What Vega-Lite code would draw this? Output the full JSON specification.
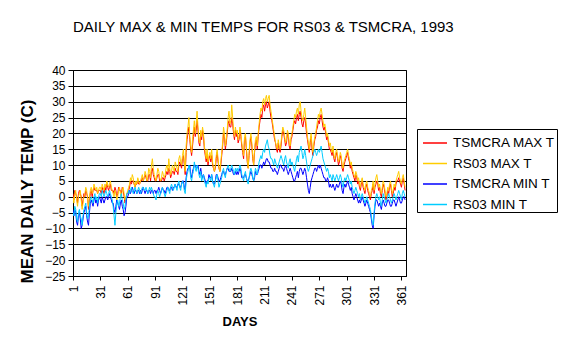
{
"$schema":"https://vega.github.io/schema/vega-lite/v6.json",
"width":333,"height":206,
"autosize":{"type":"none"},
"padding":{"left":73,"top":70,"right":161,"bottom":77},
"background":"white",
"title":{"text":"DAILY MAX & MIN TEMPS FOR RS03 & TSMCRA, 1993","anchor":"start","frame":"group","baseline":"alphabetic","offset":17,"fontSize":15,"fontWeight":"normal","font":"Liberation Sans","color":"#000"},
"data":{"values":[
{"d":1,"a":1,"b":0,"c":-4,"e":-5},{"d":2,"a":-1,"b":-2,"c":-6,"e":-6},{"d":3,"a":2,"b":1,"c":-4,"e":-3},{"d":4,"a":1,"b":2,"c":-5,"e":-4},{"d":5,"a":0,"b":-1,"c":-8,"e":-7},
{"d":6,"a":-2,"b":-3,"c":-9,"e":-8},{"d":7,"a":1,"b":0,"c":-6,"e":-5},{"d":8,"a":2,"b":1,"c":-5,"e":-4},{"d":9,"a":1,"b":2,"c":-7,"e":-6},{"d":10,"a":0,"b":-1,"c":-10,"e":-7},
{"d":11,"a":-3,"b":-4,"c":-9,"e":-9},{"d":12,"a":-1,"b":-2,"c":-7,"e":-6},{"d":13,"a":1,"b":0,"c":-5,"e":-4},{"d":14,"a":0,"b":1,"c":-4,"e":-3},{"d":15,"a":2,"b":3,"c":-3,"e":-2},
{"d":16,"a":1,"b":2,"c":-6,"e":-5},{"d":17,"a":0,"b":-1,"c":-8,"e":-7},{"d":18,"a":-4,"b":-3,"c":-9,"e":-6},{"d":19,"a":-1,"b":0,"c":-5,"e":-3},{"d":20,"a":1,"b":2,"c":-2,"e":-1},
{"d":21,"a":2,"b":3,"c":-1,"e":0},{"d":22,"a":0,"b":1,"c":-2,"e":-1},{"d":23,"a":2,"b":2,"c":-3,"e":-2},{"d":24,"a":3,"b":4,"c":-1,"e":0},{"d":25,"a":2,"b":3,"c":0,"e":1},
{"d":26,"a":2,"b":2,"c":-2,"e":-1},{"d":27,"a":2,"b":3,"c":-1,"e":0},{"d":28,"a":1,"b":1,"c":-3,"e":-2},{"d":29,"a":2,"b":2,"c":-1,"e":0},{"d":30,"a":2,"b":3,"c":0,"e":1},
{"d":31,"a":2,"b":3,"c":-1,"e":1},{"d":32,"a":1,"b":2,"c":-2,"e":0},{"d":33,"a":3,"b":4,"c":0,"e":2},{"d":34,"a":2,"b":3,"c":-1,"e":1},{"d":35,"a":1,"b":2,"c":-2,"e":0},
{"d":36,"a":3,"b":4,"c":-1,"e":1},{"d":37,"a":2,"b":3,"c":0,"e":2},{"d":38,"a":4,"b":5,"c":0,"e":1},{"d":39,"a":3,"b":4,"c":-1,"e":0},{"d":40,"a":2,"b":3,"c":0,"e":1},
{"d":41,"a":3,"b":4,"c":1,"e":2},{"d":42,"a":4,"b":5,"c":0,"e":1},{"d":43,"a":2,"b":3,"c":-1,"e":0},{"d":44,"a":2,"b":2,"c":-2,"e":-1},{"d":45,"a":2,"b":1,"c":-2,"e":-3},
{"d":46,"a":1,"b":0,"c":-4,"e":-6},{"d":47,"a":3,"b":2,"c":-5,"e":-9},{"d":48,"a":2,"b":1,"c":-3,"e":-5},{"d":49,"a":0,"b":-1,"c":-1,"e":-2},{"d":50,"a":1,"b":0,"c":-2,"e":-1},
{"d":51,"a":3,"b":2,"c":-3,"e":-3},{"d":52,"a":2,"b":3,"c":-4,"e":-2},{"d":53,"a":2,"b":1,"c":-2,"e":0},{"d":54,"a":1,"b":0,"c":-1,"e":1},{"d":55,"a":3,"b":2,"c":-3,"e":-1},
{"d":56,"a":2,"b":3,"c":-4,"e":-2},{"d":57,"a":0,"b":1,"c":-6,"e":-4},{"d":58,"a":-2,"b":-1,"c":-5,"e":-3},{"d":59,"a":-1,"b":0,"c":-3,"e":-1},{"d":60,"a":1,"b":1,"c":0,"e":1},
{"d":61,"a":1,"b":2,"c":0,"e":1},{"d":62,"a":2,"b":3,"c":1,"e":2},{"d":63,"a":3,"b":4,"c":2,"e":1},{"d":64,"a":5,"b":6,"c":1,"e":2},{"d":65,"a":4,"b":5,"c":2,"e":3},
{"d":66,"a":5,"b":7,"c":3,"e":2},{"d":67,"a":5,"b":6,"c":2,"e":1},{"d":68,"a":4,"b":4,"c":1,"e":2},{"d":69,"a":3,"b":3,"c":2,"e":3},{"d":70,"a":4,"b":5,"c":2,"e":2},
{"d":71,"a":4,"b":4,"c":1,"e":1},{"d":72,"a":5,"b":6,"c":2,"e":2},{"d":73,"a":4,"b":5,"c":2,"e":3},{"d":74,"a":4,"b":4,"c":1,"e":2},{"d":75,"a":5,"b":5,"c":2,"e":1},
{"d":76,"a":5,"b":6,"c":1,"e":2},{"d":77,"a":6,"b":7,"c":2,"e":3},{"d":78,"a":5,"b":5,"c":3,"e":3},{"d":79,"a":6,"b":6,"c":2,"e":2},{"d":80,"a":7,"b":8,"c":1,"e":2},
{"d":81,"a":6,"b":7,"c":2,"e":3},{"d":82,"a":5,"b":5,"c":2,"e":2},{"d":83,"a":5,"b":6,"c":1,"e":1},{"d":84,"a":7,"b":9,"c":2,"e":2},{"d":85,"a":7,"b":8,"c":2,"e":3},
{"d":86,"a":5,"b":6,"c":1,"e":2},{"d":87,"a":8,"b":10,"c":2,"e":3},{"d":88,"a":9,"b":12,"c":2,"e":2},{"d":89,"a":7,"b":9,"c":1,"e":1},{"d":90,"a":6,"b":7,"c":2,"e":0},
{"d":91,"a":5,"b":6,"c":2,"e":0},{"d":92,"a":5,"b":5,"c":1,"e":-1},{"d":93,"a":6,"b":7,"c":2,"e":1},{"d":94,"a":7,"b":9,"c":2,"e":2},{"d":95,"a":7,"b":8,"c":3,"e":1},
{"d":96,"a":5,"b":6,"c":2,"e":0},{"d":97,"a":5,"b":5,"c":1,"e":1},{"d":98,"a":5,"b":6,"c":2,"e":2},{"d":99,"a":6,"b":8,"c":3,"e":3},{"d":100,"a":6,"b":7,"c":2,"e":2},
{"d":101,"a":5,"b":6,"c":2,"e":1},{"d":102,"a":6,"b":7,"c":1,"e":0},{"d":103,"a":7,"b":9,"c":2,"e":1},{"d":104,"a":8,"b":10,"c":3,"e":2},{"d":105,"a":7,"b":8,"c":3,"e":3},
{"d":106,"a":9,"b":12,"c":2,"e":2},{"d":107,"a":8,"b":9,"c":2,"e":1},{"d":108,"a":6,"b":7,"c":3,"e":3},{"d":109,"a":7,"b":8,"c":3,"e":4},{"d":110,"a":8,"b":10,"c":2,"e":3},
{"d":111,"a":8,"b":9,"c":3,"e":2},{"d":112,"a":7,"b":8,"c":3,"e":3},{"d":113,"a":9,"b":11,"c":4,"e":4},{"d":114,"a":8,"b":10,"c":3,"e":3},{"d":115,"a":8,"b":9,"c":3,"e":2},
{"d":116,"a":7,"b":8,"c":4,"e":4},{"d":117,"a":10,"b":12,"c":4,"e":5},{"d":118,"a":11,"b":13,"c":3,"e":3},{"d":119,"a":10,"b":11,"c":3,"e":2},{"d":120,"a":9,"b":10,"c":4,"e":4},
{"d":121,"a":12,"b":13,"c":5,"e":5},{"d":122,"a":13,"b":15,"c":5,"e":4},{"d":123,"a":10,"b":11,"c":3,"e":2},{"d":124,"a":7,"b":8,"c":2,"e":1},{"d":125,"a":14,"b":16,"c":6,"e":5},
{"d":126,"a":18,"b":20,"c":8,"e":7},{"d":127,"a":20,"b":22,"c":9,"e":8},{"d":128,"a":22,"b":25,"c":9,"e":10},{"d":129,"a":18,"b":19,"c":10,"e":9},{"d":130,"a":15,"b":16,"c":7,"e":6},
{"d":131,"a":13,"b":14,"c":6,"e":5},{"d":132,"a":16,"b":18,"c":8,"e":7},{"d":133,"a":19,"b":21,"c":9,"e":8},{"d":134,"a":22,"b":24,"c":10,"e":11},{"d":135,"a":19,"b":20,"c":10,"e":9},
{"d":136,"a":21,"b":23,"c":9,"e":8},{"d":137,"a":24,"b":27,"c":9,"e":10},{"d":138,"a":21,"b":22,"c":10,"e":9},{"d":139,"a":17,"b":18,"c":8,"e":7},{"d":140,"a":16,"b":17,"c":7,"e":6},
{"d":141,"a":20,"b":21,"c":9,"e":8},{"d":142,"a":18,"b":19,"c":7,"e":5},{"d":143,"a":21,"b":22,"c":6,"e":6},{"d":144,"a":19,"b":20,"c":7,"e":7},{"d":145,"a":15,"b":16,"c":6,"e":5},
{"d":146,"a":13,"b":14,"c":5,"e":4},{"d":147,"a":11,"b":12,"c":4,"e":3},{"d":148,"a":13,"b":15,"c":5,"e":5},{"d":149,"a":10,"b":11,"c":5,"e":4},{"d":150,"a":12,"b":13,"c":7,"e":6},
{"d":151,"a":13,"b":14,"c":6,"e":6},{"d":152,"a":11,"b":12,"c":6,"e":5},{"d":153,"a":13,"b":15,"c":7,"e":7},{"d":154,"a":10,"b":11,"c":5,"e":5},{"d":155,"a":9,"b":9,"c":4,"e":4},
{"d":156,"a":8,"b":8,"c":4,"e":3},{"d":157,"a":9,"b":10,"c":5,"e":5},{"d":158,"a":12,"b":13,"c":7,"e":6},{"d":159,"a":14,"b":15,"c":7,"e":7},{"d":160,"a":11,"b":12,"c":6,"e":5},
{"d":161,"a":9,"b":9,"c":5,"e":3},{"d":162,"a":8,"b":8,"c":5,"e":4},{"d":163,"a":10,"b":11,"c":6,"e":5},{"d":164,"a":13,"b":14,"c":7,"e":6},{"d":165,"a":16,"b":17,"c":8,"e":8},
{"d":166,"a":20,"b":22,"c":8,"e":9},{"d":167,"a":19,"b":20,"c":7,"e":7},{"d":168,"a":15,"b":16,"c":7,"e":6},{"d":169,"a":17,"b":18,"c":8,"e":8},{"d":170,"a":20,"b":21,"c":9,"e":9},
{"d":171,"a":23,"b":25,"c":9,"e":10},{"d":172,"a":24,"b":27,"c":8,"e":9},{"d":173,"a":22,"b":23,"c":8,"e":8},{"d":174,"a":22,"b":24,"c":8,"e":9},{"d":175,"a":25,"b":29,"c":9,"e":10},
{"d":176,"a":23,"b":25,"c":8,"e":9},{"d":177,"a":20,"b":21,"c":7,"e":8},{"d":178,"a":18,"b":19,"c":7,"e":7},{"d":179,"a":21,"b":22,"c":8,"e":9},{"d":180,"a":19,"b":20,"c":7,"e":8},
{"d":181,"a":20,"b":21,"c":8,"e":9},{"d":182,"a":17,"b":18,"c":7,"e":8},{"d":183,"a":18,"b":19,"c":8,"e":9},{"d":184,"a":21,"b":22,"c":9,"e":10},{"d":185,"a":19,"b":20,"c":8,"e":9},
{"d":186,"a":16,"b":17,"c":6,"e":7},{"d":187,"a":14,"b":15,"c":6,"e":6},{"d":188,"a":12,"b":13,"c":6,"e":5},{"d":189,"a":18,"b":19,"c":7,"e":7},{"d":190,"a":19,"b":20,"c":7,"e":8},
{"d":191,"a":15,"b":16,"c":6,"e":6},{"d":192,"a":11,"b":12,"c":5,"e":5},{"d":193,"a":9,"b":9,"c":5,"e":4},{"d":194,"a":13,"b":14,"c":6,"e":6},{"d":195,"a":17,"b":18,"c":7,"e":8},
{"d":196,"a":19,"b":20,"c":8,"e":9},{"d":197,"a":16,"b":17,"c":7,"e":8},{"d":198,"a":12,"b":13,"c":6,"e":6},{"d":199,"a":10,"b":10,"c":5,"e":5},{"d":200,"a":14,"b":15,"c":6,"e":7},
{"d":201,"a":17,"b":18,"c":8,"e":9},{"d":202,"a":18,"b":19,"c":7,"e":8},{"d":203,"a":15,"b":16,"c":7,"e":7},{"d":204,"a":19,"b":20,"c":8,"e":9},{"d":205,"a":22,"b":23,"c":9,"e":11},
{"d":206,"a":24,"b":26,"c":10,"e":12},{"d":207,"a":26,"b":28,"c":10,"e":13},{"d":208,"a":25,"b":27,"c":9,"e":12},{"d":209,"a":28,"b":30,"c":10,"e":14},{"d":210,"a":29,"b":31,"c":11,"e":15},
{"d":211,"a":27,"b":29,"c":10,"e":14},{"d":212,"a":29,"b":31,"c":11,"e":16},{"d":213,"a":30,"b":32,"c":12,"e":17},{"d":214,"a":28,"b":30,"c":12,"e":18},{"d":215,"a":29,"b":31,"c":11,"e":16},
{"d":216,"a":30,"b":32,"c":11,"e":15},{"d":217,"a":27,"b":29,"c":10,"e":13},{"d":218,"a":25,"b":27,"c":9,"e":12},{"d":219,"a":24,"b":25,"c":9,"e":12},{"d":220,"a":22,"b":23,"c":8,"e":11},
{"d":221,"a":20,"b":21,"c":8,"e":10},{"d":222,"a":18,"b":19,"c":9,"e":12},{"d":223,"a":17,"b":17,"c":8,"e":11},{"d":224,"a":15,"b":16,"c":8,"e":10},{"d":225,"a":14,"b":15,"c":7,"e":9},
{"d":226,"a":17,"b":18,"c":8,"e":10},{"d":227,"a":15,"b":16,"c":9,"e":11},{"d":228,"a":14,"b":15,"c":10,"e":12},{"d":229,"a":16,"b":17,"c":10,"e":13},{"d":230,"a":19,"b":20,"c":9,"e":12},
{"d":231,"a":21,"b":22,"c":9,"e":11},{"d":232,"a":20,"b":21,"c":8,"e":10},{"d":233,"a":18,"b":19,"c":9,"e":12},{"d":234,"a":16,"b":17,"c":10,"e":13},{"d":235,"a":17,"b":18,"c":9,"e":11},
{"d":236,"a":20,"b":21,"c":8,"e":10},{"d":237,"a":19,"b":20,"c":7,"e":9},{"d":238,"a":16,"b":17,"c":8,"e":11},{"d":239,"a":15,"b":16,"c":9,"e":12},{"d":240,"a":18,"b":19,"c":8,"e":10},
{"d":241,"a":19,"b":20,"c":7,"e":11},{"d":242,"a":21,"b":22,"c":6,"e":10},{"d":243,"a":23,"b":24,"c":5,"e":9},{"d":244,"a":24,"b":26,"c":5,"e":8},{"d":245,"a":23,"b":25,"c":6,"e":10},
{"d":246,"a":25,"b":27,"c":7,"e":12},{"d":247,"a":26,"b":28,"c":8,"e":13},{"d":248,"a":24,"b":26,"c":6,"e":11},{"d":249,"a":26,"b":29,"c":8,"e":14},{"d":250,"a":27,"b":30,"c":9,"e":15},
{"d":251,"a":25,"b":27,"c":9,"e":16},{"d":252,"a":23,"b":25,"c":8,"e":14},{"d":253,"a":22,"b":24,"c":7,"e":12},{"d":254,"a":24,"b":26,"c":8,"e":13},{"d":255,"a":25,"b":28,"c":9,"e":15},
{"d":256,"a":23,"b":25,"c":8,"e":13},{"d":257,"a":20,"b":22,"c":6,"e":11},{"d":258,"a":18,"b":19,"c":4,"e":9},{"d":259,"a":16,"b":17,"c":2,"e":8},{"d":260,"a":14,"b":15,"c":1,"e":9},
{"d":261,"a":17,"b":18,"c":3,"e":10},{"d":262,"a":19,"b":20,"c":5,"e":11},{"d":263,"a":15,"b":16,"c":6,"e":12},{"d":264,"a":13,"b":14,"c":7,"e":13},{"d":265,"a":16,"b":17,"c":8,"e":14},
{"d":266,"a":18,"b":19,"c":9,"e":15},{"d":267,"a":19,"b":20,"c":9,"e":14},{"d":268,"a":21,"b":22,"c":8,"e":13},{"d":269,"a":22,"b":24,"c":9,"e":14},{"d":270,"a":24,"b":26,"c":10,"e":15},
{"d":271,"a":23,"b":25,"c":9,"e":14},{"d":272,"a":25,"b":27,"c":10,"e":15},{"d":273,"a":26,"b":28,"c":9,"e":16},{"d":274,"a":24,"b":26,"c":8,"e":14},{"d":275,"a":22,"b":24,"c":7,"e":12},
{"d":276,"a":21,"b":22,"c":6,"e":11},{"d":277,"a":22,"b":23,"c":6,"e":10},{"d":278,"a":20,"b":21,"c":5,"e":9},{"d":279,"a":18,"b":19,"c":5,"e":8},{"d":280,"a":19,"b":20,"c":6,"e":9},
{"d":281,"a":17,"b":18,"c":5,"e":8},{"d":282,"a":15,"b":16,"c":3,"e":6},{"d":283,"a":15,"b":17,"c":4,"e":7},{"d":284,"a":14,"b":15,"c":3,"e":6},{"d":285,"a":13,"b":14,"c":3,"e":5},
{"d":286,"a":15,"b":16,"c":4,"e":7},{"d":287,"a":12,"b":13,"c":3,"e":6},{"d":288,"a":11,"b":12,"c":2,"e":5},{"d":289,"a":13,"b":14,"c":3,"e":6},{"d":290,"a":14,"b":15,"c":4,"e":7},
{"d":291,"a":12,"b":13,"c":3,"e":6},{"d":292,"a":10,"b":11,"c":3,"e":5},{"d":293,"a":11,"b":12,"c":4,"e":6},{"d":294,"a":13,"b":14,"c":5,"e":7},{"d":295,"a":12,"b":13,"c":4,"e":6},
{"d":296,"a":9,"b":10,"c":2,"e":4},{"d":297,"a":8,"b":9,"c":1,"e":3},{"d":298,"a":10,"b":11,"c":3,"e":5},{"d":299,"a":11,"b":12,"c":4,"e":6},{"d":300,"a":12,"b":13,"c":3,"e":5},
{"d":301,"a":13,"b":14,"c":4,"e":6},{"d":302,"a":14,"b":15,"c":5,"e":7},{"d":303,"a":12,"b":13,"c":4,"e":6},{"d":304,"a":11,"b":12,"c":3,"e":5},{"d":305,"a":9,"b":10,"c":2,"e":4},
{"d":306,"a":10,"b":11,"c":3,"e":5},{"d":307,"a":8,"b":9,"c":1,"e":3},{"d":308,"a":7,"b":8,"c":0,"e":2},{"d":309,"a":6,"b":7,"c":-1,"e":1},{"d":310,"a":5,"b":6,"c":0,"e":2},
{"d":311,"a":7,"b":8,"c":1,"e":3},{"d":312,"a":6,"b":7,"c":0,"e":2},{"d":313,"a":4,"b":5,"c":-1,"e":1},{"d":314,"a":5,"b":6,"c":-2,"e":0},{"d":315,"a":3,"b":4,"c":-1,"e":1},
{"d":316,"a":2,"b":3,"c":-2,"e":-1},{"d":317,"a":4,"b":5,"c":-1,"e":0},{"d":318,"a":5,"b":6,"c":0,"e":1},{"d":319,"a":3,"b":4,"c":-1,"e":0},{"d":320,"a":2,"b":3,"c":-2,"e":-1},
{"d":321,"a":1,"b":2,"c":-3,"e":-2},{"d":322,"a":3,"b":4,"c":-2,"e":-1},{"d":323,"a":4,"b":5,"c":-1,"e":0},{"d":324,"a":2,"b":3,"c":-2,"e":-1},{"d":325,"a":1,"b":2,"c":-3,"e":-2},
{"d":326,"a":0,"b":1,"c":-4,"e":-3},{"d":327,"a":-1,"b":0,"c":-5,"e":-4},{"d":328,"a":1,"b":2,"c":-7,"e":-6},{"d":329,"a":2,"b":3,"c":-9,"e":-8},{"d":330,"a":4,"b":5,"c":-10,"e":-9},
{"d":331,"a":1,"b":2,"c":-6,"e":-5},{"d":332,"a":3,"b":4,"c":-3,"e":-2},{"d":333,"a":4,"b":6,"c":-1,"e":0},{"d":334,"a":5,"b":7,"c":-1,"e":1},{"d":335,"a":4,"b":5,"c":-2,"e":0},
{"d":336,"a":2,"b":3,"c":-3,"e":-1},{"d":337,"a":3,"b":4,"c":-2,"e":0},{"d":338,"a":1,"b":2,"c":-3,"e":-2},{"d":339,"a":0,"b":1,"c":-4,"e":-3},{"d":340,"a":2,"b":3,"c":-2,"e":-1},
{"d":341,"a":4,"b":5,"c":-1,"e":1},{"d":342,"a":3,"b":4,"c":-2,"e":0},{"d":343,"a":1,"b":2,"c":-3,"e":-1},{"d":344,"a":-1,"b":0,"c":-3,"e":-2},{"d":345,"a":0,"b":1,"c":-2,"e":-1},
{"d":346,"a":2,"b":3,"c":-1,"e":0},{"d":347,"a":1,"b":2,"c":-1,"e":1},{"d":348,"a":3,"b":4,"c":-2,"e":0},{"d":349,"a":4,"b":5,"c":-3,"e":-1},{"d":350,"a":2,"b":3,"c":-3,"e":-2},
{"d":351,"a":0,"b":1,"c":-2,"e":-1},{"d":352,"a":1,"b":2,"c":-1,"e":0},{"d":353,"a":3,"b":4,"c":-1,"e":1},{"d":354,"a":2,"b":3,"c":-2,"e":0},{"d":355,"a":4,"b":5,"c":-3,"e":-1},
{"d":356,"a":5,"b":6,"c":-2,"e":0},{"d":357,"a":5,"b":7,"c":-1,"e":1},{"d":358,"a":6,"b":8,"c":0,"e":2},{"d":359,"a":5,"b":6,"c":-1,"e":1},{"d":360,"a":4,"b":5,"c":-2,"e":0},
{"d":361,"a":3,"b":4,"c":-2,"e":-1},{"d":362,"a":5,"b":6,"c":-1,"e":1},{"d":363,"a":6,"b":7,"c":0,"e":2},{"d":364,"a":4,"b":5,"c":0,"e":1},{"d":365,"a":2,"b":3,"c":-1,"e":0}
]},
"transform":[{"fold":["a","b","c","e"],"as":["k","v"]}],
"mark":{"type":"line","strokeWidth":1,"clip":true},
"encoding":{
"x":{"field":"d","type":"quantitative","scale":{"domain":[1,366],"nice":false,"zero":false},
"axis":{"values":[1,31,61,91,121,151,181,211,241,271,301,331,361],"labelAngle":-90,"grid":false,"tickSize":4,"labelPadding":5,"labelFontSize":12,"labelFont":"Liberation Sans","labelColor":"#000","domainColor":"#000","tickColor":"#000","title":"DAYS","titleFont":"Liberation Sans","titleFontSize":13,"titleFontWeight":"bold","titleColor":"#000","titlePadding":10,"labelFlush":false,"labelOverlap":false}},
"y":{"field":"v","type":"quantitative","scale":{"domain":[-25,40],"nice":false,"zero":false},
"axis":{"values":[-25,-20,-15,-10,-5,0,5,10,15,20,25,30,35,40],"grid":true,"gridColor":"#000","gridOpacity":1,"gridWidth":1,"tickSize":5,"labelPadding":3,"labelFontSize":12,"labelFont":"Liberation Sans","labelColor":"#000","domainColor":"#000","tickColor":"#000","title":"MEAN DAILY TEMP (C)","titleFont":"Liberation Sans","titleFontSize":17,"titleFontWeight":"bold","titleColor":"#000","titlePadding":8,"titleY":121,"labelFlush":false,"labelOverlap":false}},
"color":{"field":"k","type":"nominal","scale":{"domain":["a","b","c","e"],"range":["#FF0000","#FFCC00","#0000FF","#00CCFF"]},
"legend":{"orient":"none","legendX":344,"legendY":59,"title":null,"strokeColor":"#000","fillColor":"#fff","padding":1,"symbolOffset":4,"symbolType":"stroke","symbolSize":576,"symbolStrokeWidth":1.5,"labelFontSize":13.5,"labelFont":"Liberation Sans","labelColor":"#000","labelOffset":5,"rowPadding":0.5,"cornerRadius":0,
"labelExpr":"datum.label=='a'?'TSMCRA MAX T':datum.label=='b'?'RS03 MAX T':datum.label=='c'?'TSMCRA MIN T':'RS03 MIN T'"}}
},
"config":{"view":{"stroke":"#000","strokeWidth":1},"font":"Liberation Sans"}
}
